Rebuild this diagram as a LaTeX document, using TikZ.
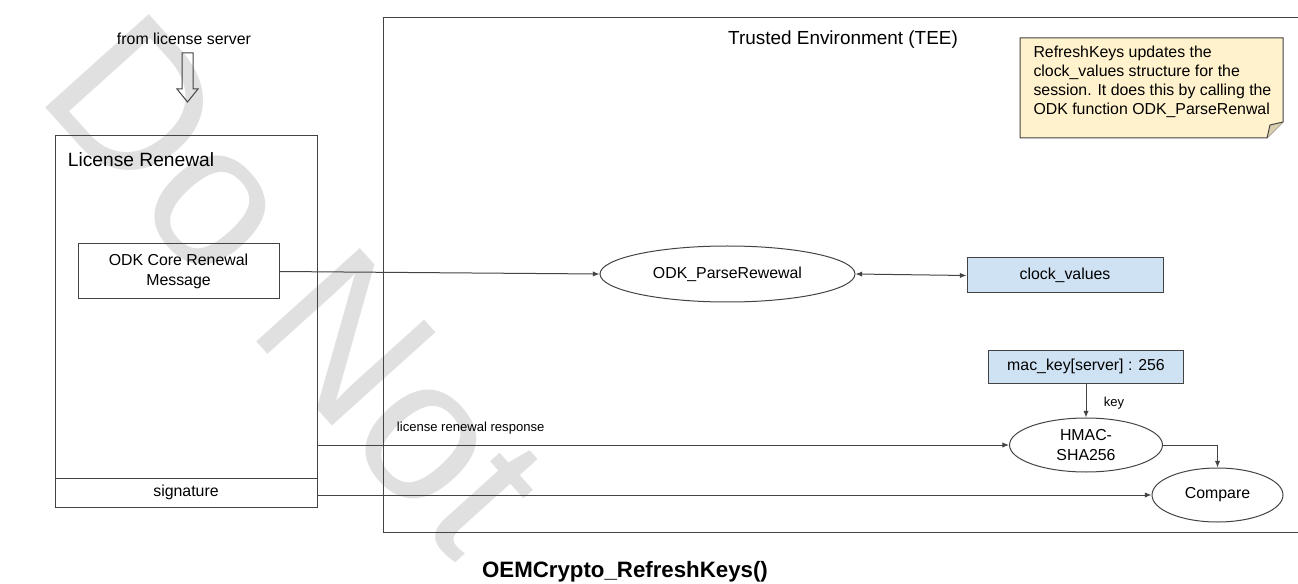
\documentclass[tikz,border=0pt]{standalone}
\usepackage{fontspec}
\setmainfont{Liberation Sans}
\usetikzlibrary{shapes.geometric,arrows.meta}

\definecolor{edge}{HTML}{434343}
\definecolor{notefill}{HTML}{FFF2CC}
\definecolor{keyfill}{HTML}{CFE2F3}
\newcommand{\pxu}{0.75pt}

\begin{document}
\begin{tikzpicture}[x=0.75pt, y=-0.75pt, line width=0.75pt,
  box/.style={draw=edge, rectangle, inner sep=0pt, align=center, font=\fontsize{11.9}{15}\selectfont},
  bluebox/.style={box, fill=keyfill},
  fn/.style={draw=edge, ellipse, inner sep=0pt, align=center, font=\fontsize{11.9}{15}\selectfont},
  flow/.style={draw=edge, -{Latex[length=5pt,width=4pt]}},
  both/.style={draw=edge, {Latex[length=5pt,width=4pt]}-{Latex[length=5pt,width=4pt]}},
  small/.style={font=\fontsize{9.8}{12}\selectfont}]

\clip (0,0) rectangle (1298,584);

% watermark
\node[rotate=-48, anchor=base west, inner sep=0pt, text=black!12,
  font=\fontsize{152}{152}\selectfont] (mark) at (34,95) {Do Not};

% license renewal side
\node[font=\fontsize{11.9}{15}\selectfont] (from) at (184,39) {from license server};
\draw[edge] (182,53) -- (193,53) -- (193,89) -- (198,89) -- (187.5,102)
  -- (177,89) -- (182,89) -- cycle;

\node[box, minimum width=262*\pxu, minimum height=371*\pxu] (lic) at (186,321.5) {};
\node[anchor=west, font=\fontsize{14.4}{17}\selectfont] (lictitle) at (63,160) {License Renewal};
\node[box, minimum width=201*\pxu, minimum height=55*\pxu] (core) at (178.5,271.5)
  {ODK Core Renewal\\Message};
\node[box, minimum width=262*\pxu, minimum height=29*\pxu] (sig) at (186,492.5) {signature};

% trusted environment
\node[box, minimum width=937*\pxu, minimum height=514*\pxu] (tee) at (851.5,275) {};
\node[font=\fontsize{14.2}{17}\selectfont] (teetitle) at (843,40) {Trusted Environment (TEE)};

\draw[edge, fill=notefill] (1020,38) -- (1283,38) -- (1283,122) -- (1267,138)
  -- (1020,138) -- cycle;
\draw[edge, fill=notefill!85!black] (1283,122) -- (1270,125) -- (1267,138);
\node[anchor=north west, align=left, inner sep=0pt,
  font=\fontsize{11.9}{14.25}\selectfont] (note) at (1033,46)
  {RefreshKeys updates the\\clock\_values structure for the\\session. It does this by calling the\\ODK function ODK\_ParseRenwal};

\node[fn, minimum width=255*\pxu, minimum height=56*\pxu] (parse) at (727.5,274) {ODK\_ParseRewewal};
\node[bluebox, minimum width=196*\pxu, minimum height=35*\pxu] (clock) at (1065,275.5) {clock\_values};
\node[bluebox, minimum width=195*\pxu, minimum height=33*\pxu] (mackey) at (1086,366.5) {mac\_key[server] : 256};
\node[fn, minimum width=153*\pxu, minimum height=54*\pxu] (hmac) at (1086,445) {HMAC-\\SHA256};
\node[fn, minimum width=131*\pxu, minimum height=54*\pxu] (cmp) at (1217.5,495) {Compare};

\node[small, anchor=base west] (resp) at (392,431) {license renewal response};
\node[small] (keylbl) at (1114,403) {key};

% connectors
\draw[flow] (core.east) -- (parse.west);
\draw[both] (parse.east) -- (clock.west);
\draw[flow] (mackey.south) -- (hmac.north);
\draw[flow] (lic.east |- hmac.west) -- (hmac.west);
\draw[flow] (sig.east |- cmp.west) -- (cmp.west);
\draw[flow] (hmac.east) -| (cmp.north);

\node[font=\bfseries\fontsize{16.7}{20}\selectfont] (title) at (625,572) {OEMCrypto\_RefreshKeys()};

\end{tikzpicture}
\end{document}
